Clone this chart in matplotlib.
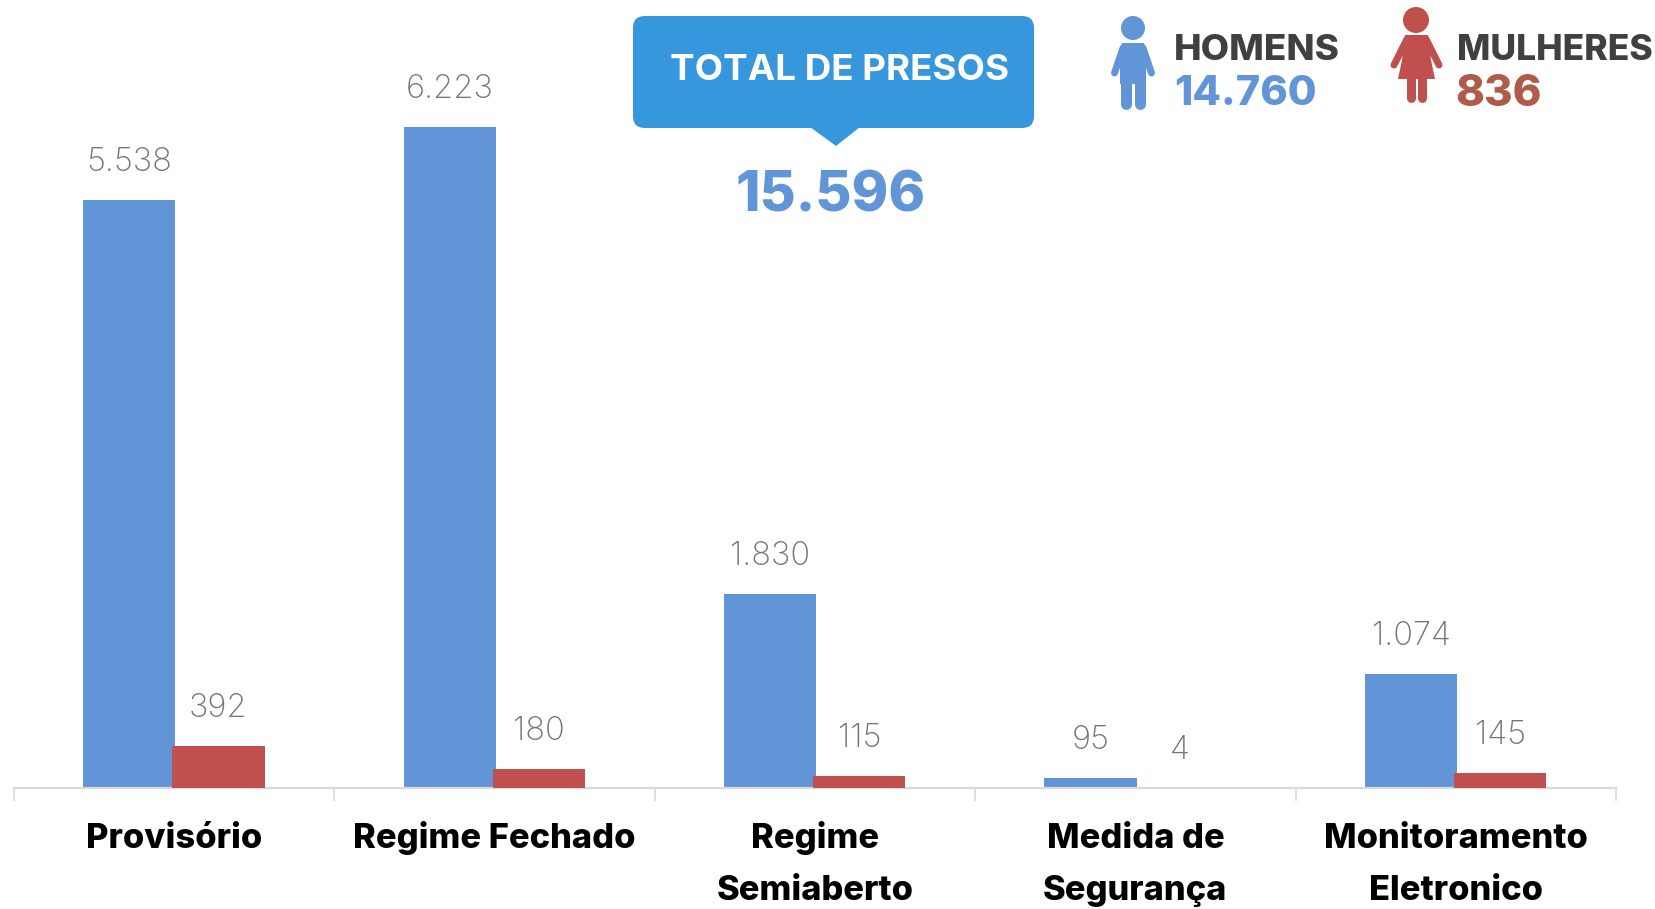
import matplotlib
matplotlib.use("Agg")
import matplotlib.pyplot as plt
from matplotlib.patches import Circle, FancyBboxPatch, Polygon
import numpy as np

categorias = ["Provisório", "Regime Fechado", "Regime\nSemiaberto",
              "Medida de\nSegurança", "Monitoramento\nEletronico"]
homens = [5538, 6223, 1830, 95, 1074]
mulheres = [392, 180, 115, 4, 145]
rotulos_homens = ["5.538", "6.223", "1.830", "95", "1.074"]
rotulos_mulheres = ["392", "180", "115", "4", "145"]

AZUL = "#6295D8"
VERMELHO = "#C0504D"
W, H = 1656, 909
BASE_Y = 788

plt.rcParams['font.family'] = ['Inter', 'DejaVu Sans']

fig = plt.figure(figsize=(W / 100, H / 100), dpi=100, facecolor="white")
ax = fig.add_axes([14 / W, (H - BASE_Y) / H, 1602 / W, BASE_Y / H])
ax.set_xlim(0, 5)
ax.set_ylim(0, BASE_Y / 0.1062)

x = np.arange(5) + 0.5
ax.bar(x - 0.14, homens, width=0.288, color=AZUL, zorder=2)
ax.bar(x + 0.138, mulheres, width=0.288, color=VERMELHO, zorder=3)

for i in range(5):
    ax.annotate(rotulos_homens[i], (x[i] - 0.14, homens[i]), xytext=(0, 27),
                textcoords="offset points", ha="center", va="center",
                fontsize=23.5, color="#757575", fontweight="light")
    ax.annotate(rotulos_mulheres[i], (x[i] + 0.138, mulheres[i]), xytext=(0, 27),
                textcoords="offset points", ha="center", va="center",
                fontsize=23.5, color="#757575", fontweight="light")
    # cada linha separada para a base do texto ficar igual em todos
    for j, linha in enumerate(categorias[i].split("\n")):
        ax.annotate(linha, (x[i], 0), xytext=(0, -43.5 - 37 * j), textcoords="offset points",
                    ha="center", va="baseline", fontsize=24.8, fontweight="heavy",
                    color="black", annotation_clip=False)

for s in ["top", "left", "right"]:
    ax.spines[s].set_visible(False)
ax.spines["bottom"].set_color("#D9D9D9")
ax.spines["bottom"].set_linewidth(1.6)
ax.set_yticks([])
ax.set_xticks(np.arange(6))
ax.set_xticklabels([])
ax.tick_params(axis="x", which="major", length=9, width=1.2, color="#D9D9D9")

# camada em pixels para o balao e os bonecos
top = fig.add_axes([0, 0, 1, 1], zorder=5)
top.set_xlim(0, W)
top.set_ylim(H, 0)
top.axis("off")

top.add_patch(FancyBboxPatch((641, 24), 385, 96, boxstyle="round,pad=8,rounding_size=12",
                             fc="#3697DC", ec="none"))
top.add_patch(Polygon([[810, 127], [860, 127], [836, 146]], fc="#3697DC", ec="none"))
top.text(840, 71, "TOTAL DE PRESOS", color="white", fontsize=26.5, fontweight="bold",
         ha="center", va="center")
top.text(831, 197, "15.596", color=AZUL, fontsize=40, fontweight="heavy",
         ha="center", va="center")

# homem
px = 0.72
top.add_patch(Circle((1133, 28), 12, fc=AZUL, ec="none"))
top.add_patch(Polygon([[1122, 43], [1144, 43], [1146, 50], [1146, 84], [1120, 84], [1120, 50]],
                      fc=AZUL, ec="none"))
for xa, ya, xb, yb, lw in [(1123, 48, 1114.5, 73, 7), (1143, 48, 1151.5, 73, 7),
                           (1126, 80, 1126, 104, 11), (1140, 80, 1140, 104, 11)]:
    top.plot([xa, xb], [ya, yb], color=AZUL, lw=lw * px, solid_capstyle="round")

# mulher
top.add_patch(Circle((1416, 20), 13, fc=VERMELHO, ec="none"))
top.add_patch(Polygon([[1405, 35], [1428, 35], [1431, 60], [1435, 79], [1398, 79], [1402, 60]],
                      fc=VERMELHO, ec="none"))
for xa, ya, xb, yb, lw in [(1407, 39, 1394, 65, 7), (1426, 39, 1439, 65, 7),
                           (1411, 76, 1411, 98, 9), (1422, 76, 1422, 98, 9)]:
    top.plot([xa, xb], [ya, yb], color=VERMELHO, lw=lw * px, solid_capstyle="round")

top.text(1174, 51, "HOMENS", color="#404040", fontsize=26.5, fontweight="heavy", va="center")
top.text(1174, 94, "14.760", color=AZUL, fontsize=30, fontweight="heavy", va="center")
top.text(1457, 50, "MULHERES", color="#404040", fontsize=25.5, fontweight="heavy", va="center")
top.text(1455, 94, "836", color="#B05A4A", fontsize=31.5, fontweight="heavy", va="center")

fig.savefig("out.png", dpi=100)
